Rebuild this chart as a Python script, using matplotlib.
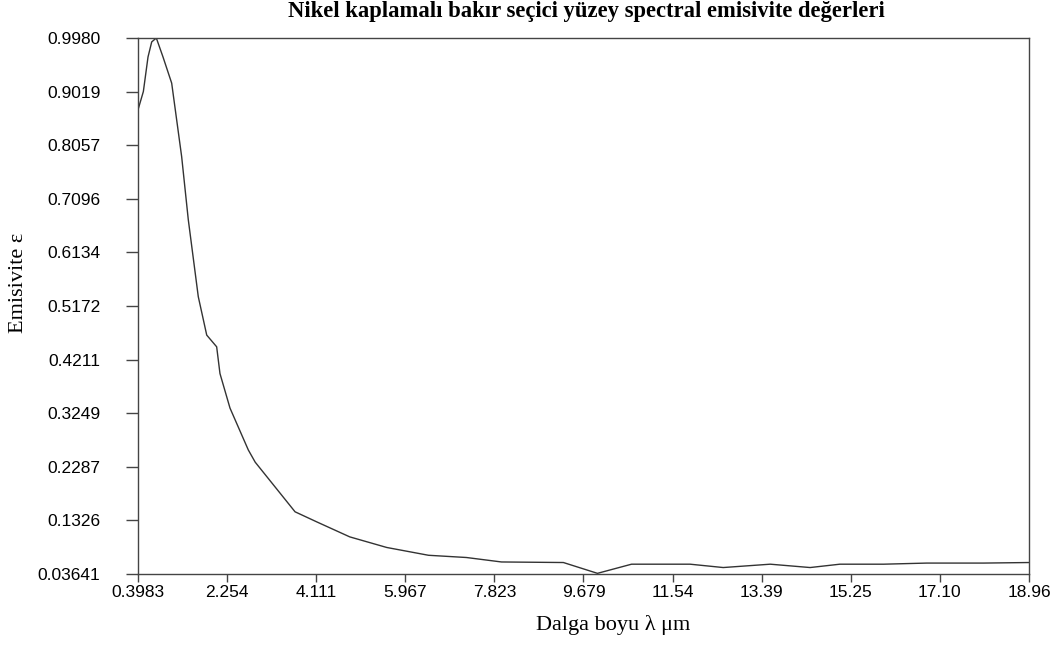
import matplotlib
matplotlib.use("Agg")
import matplotlib.pyplot as plt
import numpy as np

wavelength = [0.398, 0.51, 0.607, 0.684, 0.78, 0.919, 1.10, 1.308, 1.446, 1.654,
              1.83, 2.037, 2.106, 2.315, 2.696, 2.84, 3.67, 4.12, 4.81, 5.58,
              6.45, 7.24, 7.97, 9.26, 9.97, 10.68, 11.90, 12.59, 13.57, 14.40,
              15.02, 15.93, 16.83, 18.01, 18.96]
emissivity = [0.869, 0.902, 0.964, 0.991, 0.998, 0.964, 0.917, 0.785, 0.672, 0.534,
              0.465, 0.444, 0.396, 0.334, 0.259, 0.237, 0.148, 0.130, 0.103, 0.084,
              0.070, 0.066, 0.058, 0.057, 0.0376, 0.054, 0.054, 0.048, 0.054, 0.048,
              0.054, 0.054, 0.056, 0.056, 0.057]

xticks = [0.3983, 2.254, 4.111, 5.967, 7.823, 9.679, 11.54, 13.39, 15.25, 17.10, 18.96]
xticklabels = ["0.3983", "2.254", "4.111", "5.967", "7.823", "9.679", "11.54", "13.39", "15.25", "17.10", "18.96"]
yticks = [0.03641, 0.1326, 0.2287, 0.3249, 0.4211, 0.5172, 0.6134, 0.7096, 0.8057, 0.9019, 0.9980]
yticklabels = ["0.03641", "0.1326", "0.2287", "0.3249", "0.4211", "0.5172", "0.6134", "0.7096", "0.8057", "0.9019", "0.9980"]

title = "Nikel kaplamalı bakır seçici yüzey spectral emisivite değerleri"
xlabel = "Dalga boyu λ μm"
ylabel = "Emisivite ε"

fig = plt.figure(figsize=(10.57, 6.46), dpi=100)
ax = fig.add_axes([138/1057, 72/646, 891/1057, 536/646])
ax.plot(wavelength, emissivity, color="#333333", lw=1.0)
ax.set_xlim(0.3983, 18.96)
ax.set_ylim(0.03641, 0.9980)
ax.set_xticks(xticks)
ax.set_xticklabels(xticklabels, fontfamily="Liberation Sans", fontsize=12.5)
ax.set_yticks(yticks)
ax.set_yticklabels(yticklabels, fontfamily="Liberation Sans", fontsize=12.5)
ax.tick_params(axis="x", direction="out", length=6, width=1, color="#444444", pad=2)
ax.tick_params(axis="y", direction="out", length=9, width=1, color="#444444", pad=18)
for s in ax.spines.values():
    s.set_color("#444444")
    s.set_linewidth(1.0)

fig.text(586/1057, 1 - 12/646, title, ha="center", va="center",
         fontfamily="Liberation Serif", fontweight="bold", fontsize=16.3)
fig.text(613/1057, 1 - 625/646, xlabel, ha="center", va="center",
         fontfamily=["Liberation Serif", "DejaVu Serif"], fontsize=16)
fig.text(19/1057, 1 - 283/646, ylabel, ha="center", va="center", rotation=90,
         fontfamily=["Liberation Serif", "DejaVu Serif"], fontsize=16)

fig.savefig("out.png", dpi=100)
